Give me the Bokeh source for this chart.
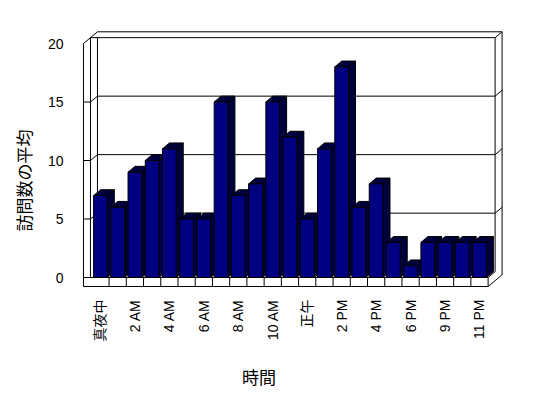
import math
from bokeh.plotting import figure
from bokeh.models import Range1d, FixedTicker, Title
from bokeh.core.properties import value
from bokeh.embed import file_html
from bokeh.resources import INLINE

# ---- data ----
hours = ["真夜中", "1 AM", "2 AM", "3 AM", "4 AM", "5 AM", "6 AM", "7 AM", "8 AM",
         "9 AM", "10 AM", "11 AM", "正午", "1 PM", "2 PM", "3 PM", "4 PM", "5 PM",
         "6 PM", "8 PM", "9 PM", "10 PM", "11 PM"]
visits = [7, 6, 9, 10, 11, 5, 5, 15, 7, 8, 15, 12, 5, 11, 18, 6, 8, 3, 1, 3, 3, 3, 3]
y_ticks = [0, 5, 10, 15, 20]
grid_vals = [5, 10, 15]
y_title = "訪問数の平均"
x_title = "時間"

n = len(hours)

# ---- layout (pixel scale) ----
PXX = 17.27   # px per category
PXY = 11.7    # px per value unit
FL, FT, FW, FH = 80, 29, 424, 367
W, H = 548, 398

DX = 7 / PXX      # depth offset in x (data units)
DY = 5.85 / PXY   # depth offset in y
xF = -(99 - 82) / PXX          # front-left edge
yFb = -9 / PXY                 # floor bottom
ymax = y_ticks[-1]

x_start = xF - 2 / PXX
x_end = x_start + FW / PXX
y_start = -(FT + FH - 277) / PXY
y_end = y_start + FH / PXY

p = figure(width=W, height=H, output_backend="svg", toolbar_location=None,
           x_axis_location=None,
           x_range=Range1d(x_start, x_end), y_range=Range1d(y_start, y_end),
           min_border_left=FL, min_border_top=FT,
           min_border_right=W - FL - FW, min_border_bottom=H - FT - FH)
p.outline_line_color = None
p.background_fill_color = "white"
p.border_fill_color = "white"
p.grid.visible = False

# y axis
p.yaxis.ticker = FixedTicker(ticks=y_ticks)
p.yaxis.axis_line_color = None
p.yaxis.major_tick_line_color = None
p.yaxis.minor_tick_line_color = None
p.yaxis.major_label_standoff = 12
p.yaxis.major_label_text_font = "Liberation Sans"
p.yaxis.major_label_text_font_size = "14px"
p.yaxis.major_label_text_color = "black"

# y title
p.add_layout(Title(text=y_title, align="left", offset=165, standoff=17,
                   text_font="Noto Sans CJK JP", text_font_size="17px",
                   text_font_style="normal", text_color="black"), "left")

# ---- walls ----
xRi = n - 0.5 + DX
xRo = n - 0.5 + 2 * DX
wall_xs = [
    [xF, xF, xF + 2 * DX, xRo, xRo, n - 0.5],
    [xF + DX, xRi, xRi, n - 0.5],
    [xF + DX, xF + DX],
    [xF + 2 * DX, xF + 2 * DX],
    [xRi, xRo],
]
wall_ys = [
    [yFb, ymax, ymax + 2 * DY, ymax + 2 * DY, yFb + 2 * DY, yFb],
    [ymax + DY, ymax + DY, DY, 0],
    [ymax + DY, 0],
    [ymax + DY, DY],
    [ymax + DY, ymax + 2 * DY],
]
for v in grid_vals:
    wall_xs.append([xF, xF + DX, xF + 2 * DX, xRi, xRo])
    wall_ys.append([v, v, v + DY, v + DY, v + 2 * DY])
p.multi_line(wall_xs, wall_ys, line_color="black", line_width=1)

# floor front strip
p.quad(left=[xF], right=[n - 0.5], bottom=[yFb], top=[0],
       fill_color="white", line_color="black", line_width=1)
p.segment(x0=[k - 0.5 for k in range(1, n)], y0=[yFb] * (n - 1),
          x1=[k - 0.5 for k in range(1, n)], y1=[0] * (n - 1),
          line_color="black", line_width=1)

# ---- bars ----
hw = 0.4
pxs, pys = [], []
for i, v in enumerate(visits):
    # side face
    pxs.append([i + hw, i + hw + DX, i + hw + DX, i + hw])
    pys.append([0, DY, v + DY, v])
    # top face
    pxs.append([i - hw, i - hw + DX, i + hw + DX, i + hw])
    pys.append([v, v + DY, v + DY, v])
p.patches(pxs, pys, fill_color="#00003c", line_color="black", line_width=1)
p.quad(left=[i - hw for i in range(n)], right=[i + hw for i in range(n)],
       bottom=[0] * n, top=visits,
       fill_color="#000080", line_color="black", line_width=1)

# ---- category labels (every other hour) ----
lab_idx = list(range(0, n, 2))
lab_y = yFb - 13 / PXY
p.text(x=lab_idx, y=[lab_y] * len(lab_idx), text=[hours[i] for i in lab_idx],
       angle=math.pi / 2, text_align="right", text_baseline="middle",
       text_font=value("Liberation Sans, Noto Sans CJK JP"),
       text_font_size="14px", text_color="black")

# x title
p.text(x=[(258 - 99) / PXX], y=[(277 - 376) / PXY], text=[x_title],
       text_align="center", text_baseline="middle",
       text_font=value("Noto Sans CJK JP"), text_font_size="17px",
       text_color="black")

open("out.html", "w").write(file_html(p, INLINE))
